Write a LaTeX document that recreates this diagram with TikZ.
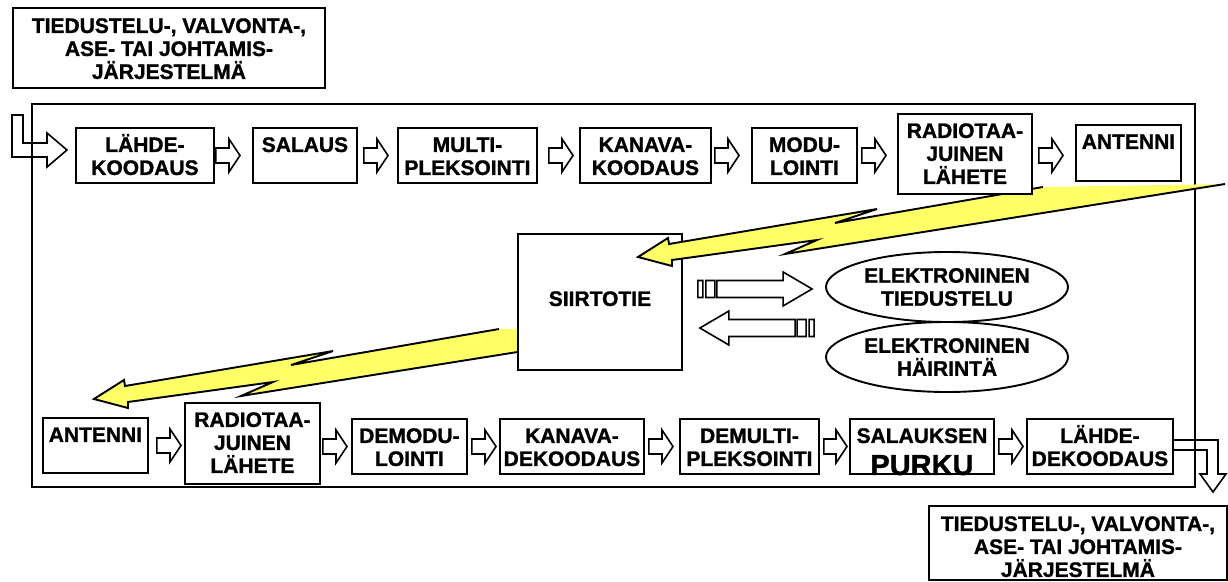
\documentclass[tikz,border=0pt]{standalone}
\usepackage{fontspec}
\setmainfont{Liberation Sans}[BoldFeatures={FakeBold=1.2}]
\usetikzlibrary{calc,shapes.geometric}

\definecolor{boltyellow}{RGB}{255,255,102}

\tikzset{
  lbl/.style={font=\fontsize{21}{23}\selectfont\bfseries},
  procbox/.style={draw, line width=1.9pt, fill=white, inner sep=0pt, anchor=north west, lbl},
  ell/.style={ellipse, draw, line width=1.9pt, fill=white, inner sep=0pt,
    minimum width=242pt, minimum height=70pt, align=center, lbl},
  outline/.style={draw, line width=1.6pt, line join=miter},
  % hollow block arrow drawn between two points (left to right)
  hollowarrow/.style={outline, fill=white,
    to path={let \p1=(\tikztostart), \p2=(\tikztotarget) in
      (\x1,{\y1+7.5pt}) -- ({\x2-11pt},{\y1+7.5pt}) -- ({\x2-11pt},{\y1+16.5pt}) -- (\x2,\y1)
      -- ({\x2-11pt},{\y1-16.5pt}) -- ({\x2-11pt},{\y1-7.5pt}) -- (\x1,{\y1-7.5pt}) -- cycle}},
  % block arrow with two stripes at its tail, either direction
  stripedarrow/.style={outline, fill=white,
    to path={let \p1=(\tikztostart), \p2=(\tikztotarget), \n1={ifthenelse(\x2>\x1,1,-1)} in
      (\x1,{\y1-8.5pt}) rectangle ({\x1+\n1*5pt},{\y1+8.5pt})
      ({\x1+\n1*8pt},{\y1-8.5pt}) rectangle ({\x1+\n1*17pt},{\y1+8.5pt})
      ({\x1+\n1*19pt},{\y1+8.5pt}) -- ({\x2-\n1*29pt},{\y1+8.5pt}) -- ({\x2-\n1*29pt},{\y1+17pt})
      -- (\x2,\y1) -- ({\x2-\n1*29pt},{\y1-17pt}) -- ({\x2-\n1*29pt},{\y1-8.5pt})
      -- ({\x1+\n1*19pt},{\y1-8.5pt}) -- cycle}},
}

% box with top-aligned, centred text: [first baseline]{name}{x1}{y1}{x2}{y2}{text}
\newcommand\procnode[7][24]{%
  \node[procbox] (#2) at (#3,#4)
    {\parbox[c][\dimexpr#6pt-#4pt\relax][t]{\dimexpr#5pt-#3pt\relax}{\centering\rule{0pt}{#1pt}#7}};}

% yellow radio link bolt, tip at #1
\newcommand\lightningbolt[1]{%
  \begin{scope}[shift={#1}]
    \fill[boltyellow] (0,0) -- (30,-19) -- (31,-13) -- (239,-48) -- (197,-34) -- (405,-70)
      -- (587,-73) -- (147,-3) -- (179,-17) -- (34,3) -- (34,9) -- cycle;
    \draw[line width=1.9pt] (405,-70) -- (197,-34) -- (239,-48) -- (31,-13) -- (30,-19)
      -- (0,0) -- (34,9) -- (34,3) -- (179,-17) -- (147,-3) -- (587,-73);
  \end{scope}}

\begin{document}
\begin{tikzpicture}[x=1pt,y=-1pt]
\useasboundingbox (0,0) rectangle (1228,581);

% system frame
\draw[line width=1.9pt] (32,104) rectangle (1195,487);

% input and output arrows
\draw[outline] (12,115) -- (23,115) -- (23,143) -- (47,143) -- (47,133) -- (67,150)
  -- (47,167) -- (47,157) -- (12,157) -- cycle;
\draw[outline] (1172,440) -- (1218,440) -- (1218,474) -- (1226,474) -- (1213,492)
  -- (1200,474) -- (1207,474) -- (1207,450) -- (1172,450);

% receiving link, partly behind the channel box
\lightningbolt{(94,399)}

\procnode[72]{siirto}{517}{233}{681}{369}{SIIRTOTIE}

% transmitting link into the channel
\lightningbolt{(638,257)}

% outer systems
\procnode[25]{src}{12}{7}{324}{87}{TIEDUSTELU-, VALVONTA-,\\ASE- TAI JOHTAMIS-\\JÄRJESTELMÄ}
\procnode[25]{dst}{928}{505}{1226}{579}{TIEDUSTELU-, VALVONTA-,\\ASE- TAI JOHTAMIS-\\JÄRJESTELMÄ}

% transmitter chain
\procnode{t1}{75}{127}{213}{182}{LÄHDE-\\KOODAUS}
\procnode{t2}{252}{127}{356}{182}{SALAUS}
\procnode{t3}{397}{127}{536}{182}{MULTI-\\PLEKSOINTI}
\procnode{t4}{579}{127}{710}{182}{KANAVA-\\KOODAUS}
\procnode{t5}{751}{127}{856}{182}{MODU-\\LOINTI}
\procnode{t6}{897}{113}{1031}{193}{RADIOTAA-\\JUINEN\\LÄHETE}
\procnode{t7}{1075}{124}{1180}{180}{ANTENNI}

% receiver chain
\procnode{b1}{42}{417}{147}{472}{ANTENNI}
\procnode{b2}{184}{402}{319}{483}{RADIOTAA-\\JUINEN\\LÄHETE}
\procnode{b3}{351}{418}{466}{473}{DEMODU-\\LOINTI}
\procnode{b4}{499}{418}{643}{473}{KANAVA-\\DEKOODAUS}
\procnode{b5}{679}{418}{818}{473}{DEMULTI-\\PLEKSOINTI}
\procnode{b6}{849}{418}{993}{473}{SALAUKSEN\\[9pt]{\fontsize{29}{29}\selectfont PURKU}}
\procnode{b7}{1026}{418}{1172}{473}{LÄHDE-\\DEKOODAUS}

% electronic warfare
\node[ell] (elint) at (947,287) {ELEKTRONINEN\\TIEDUSTELU};
\node[ell] (ecm) at (947,357) {ELEKTRONINEN\\HÄIRINTÄ};

% chain arrows
\draw[hollowarrow] ([xshift=1pt]t1.east) to ([xshift=-12pt]t2.west);
\draw[hollowarrow] ([xshift=6pt]t2.east) to ([xshift=-9pt]t3.west);
\draw[hollowarrow] ([xshift=11pt]t3.east) to ([xshift=-6pt]t4.west);
\draw[hollowarrow] ([xshift=3pt]t4.east) to ([xshift=-12pt]t5.west);
\draw[hollowarrow] ([xshift=4pt]t5.east) to ([xshift=-11pt]t6.west);
\draw[hollowarrow] ($(t6.east|-t5.east)+(6,0)$) to ([xshift=-12pt]t7.west);

\draw[hollowarrow] ([xshift=8pt]b1.east) to ([xshift=-3pt]b2.west);
\draw[hollowarrow] ($(b2.east|-b3.west)+(2,0)$) to ([xshift=-4pt]b3.west);
\draw[hollowarrow] ([xshift=4pt]b3.east) to ([xshift=-3pt]b4.west);
\draw[hollowarrow] ([xshift=4pt]b4.east) to ([xshift=-6pt]b5.west);
\draw[hollowarrow] ([xshift=4pt]b5.east) to ([xshift=-2pt]b6.west);
\draw[hollowarrow] ([xshift=4pt]b6.east) to ([xshift=-3pt]b7.west);

% interception and jamming
\draw[stripedarrow] ([xshift=15pt,yshift=13pt]siirto.east) to ([xshift=-13pt]elint.west);
\draw[stripedarrow] ([xshift=-11pt,yshift=29pt]ecm.west) to ([xshift=17pt]siirto.east);
\end{tikzpicture}
\end{document}
